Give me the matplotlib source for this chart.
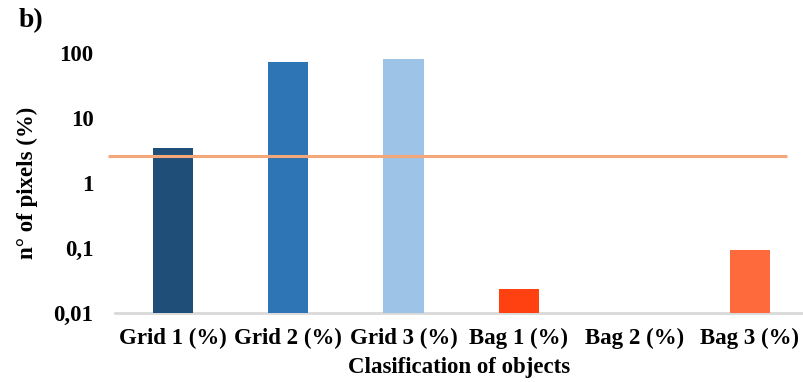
import matplotlib
matplotlib.use("Agg")
import matplotlib.pyplot as plt
from matplotlib.ticker import FixedLocator, FixedFormatter, NullLocator

categories = ["Grid 1 (%)", "Grid 2 (%)", "Grid 3 (%)", "Bag 1 (%)", "Bag 2 (%)", "Bag 3 (%)"]
values = [3.5, 72, 81, 0.023, 0.0, 0.093]
threshold = 2.6
bar_colors = ["#1f4e79", "#2e75b6", "#9dc3e6", "#ff4010", "#ff6a3d", "#ff6a3d"]
ytick_values = [0.01, 0.1, 1, 10, 100]
ytick_labels = ["0,01", "0,1", "1", "10", "100"]

plt.rcParams["font.family"] = ["Liberation Serif", "DejaVu Serif"]
plt.rcParams["font.weight"] = "bold"

fs = 16.5

fig = plt.figure(figsize=(8.04, 3.82), dpi=100)
ax = fig.add_axes([115 / 804, 69 / 382, (804 - 115) / 804, (313 - 53) / 382])

x = list(range(len(categories)))
ymin = 0.01
ax.bar(x, [v - ymin if v > ymin else 0 for v in values], bottom=ymin, width=0.35,
       color=bar_colors, zorder=2)

ax.set_yscale("log")
ax.set_ylim(0.01, 100)
ax.set_xlim(-0.5, 5.47)
ax.yaxis.set_major_locator(FixedLocator(ytick_values))
ax.yaxis.set_major_formatter(FixedFormatter(ytick_labels))
ax.yaxis.set_minor_locator(NullLocator())
ax.set_xticks(x)
ax.set_xticklabels(categories)
ax.tick_params(axis="both", length=0, labelsize=fs)
ax.tick_params(axis="x", pad=11)
ax.tick_params(axis="y", pad=15.5)

for side in ["top", "right", "left"]:
    ax.spines[side].set_visible(False)
ax.spines["bottom"].set_color("#d9d9d9")
ax.spines["bottom"].set_linewidth(2)
ax.spines["bottom"].set_zorder(1)

# threshold line
ax.plot([-0.56, 5.32], [threshold, threshold], color="#f4a87a", lw=2.2,
        zorder=3, clip_on=False, solid_capstyle="butt")

ax.set_xlabel("Clasification of objects", fontsize=fs, fontweight="bold", labelpad=5.5)
fig.text(27 / 804, 1 - 183 / 382, "n° of pixels (%)", rotation=90, fontsize=fs,
         fontweight="bold", ha="center", va="center")
fig.text(19 / 804, 1 - 21 / 382, "b)", fontsize=20, fontweight="bold",
         ha="left", va="center")

fig.savefig("out.png", dpi=100)
